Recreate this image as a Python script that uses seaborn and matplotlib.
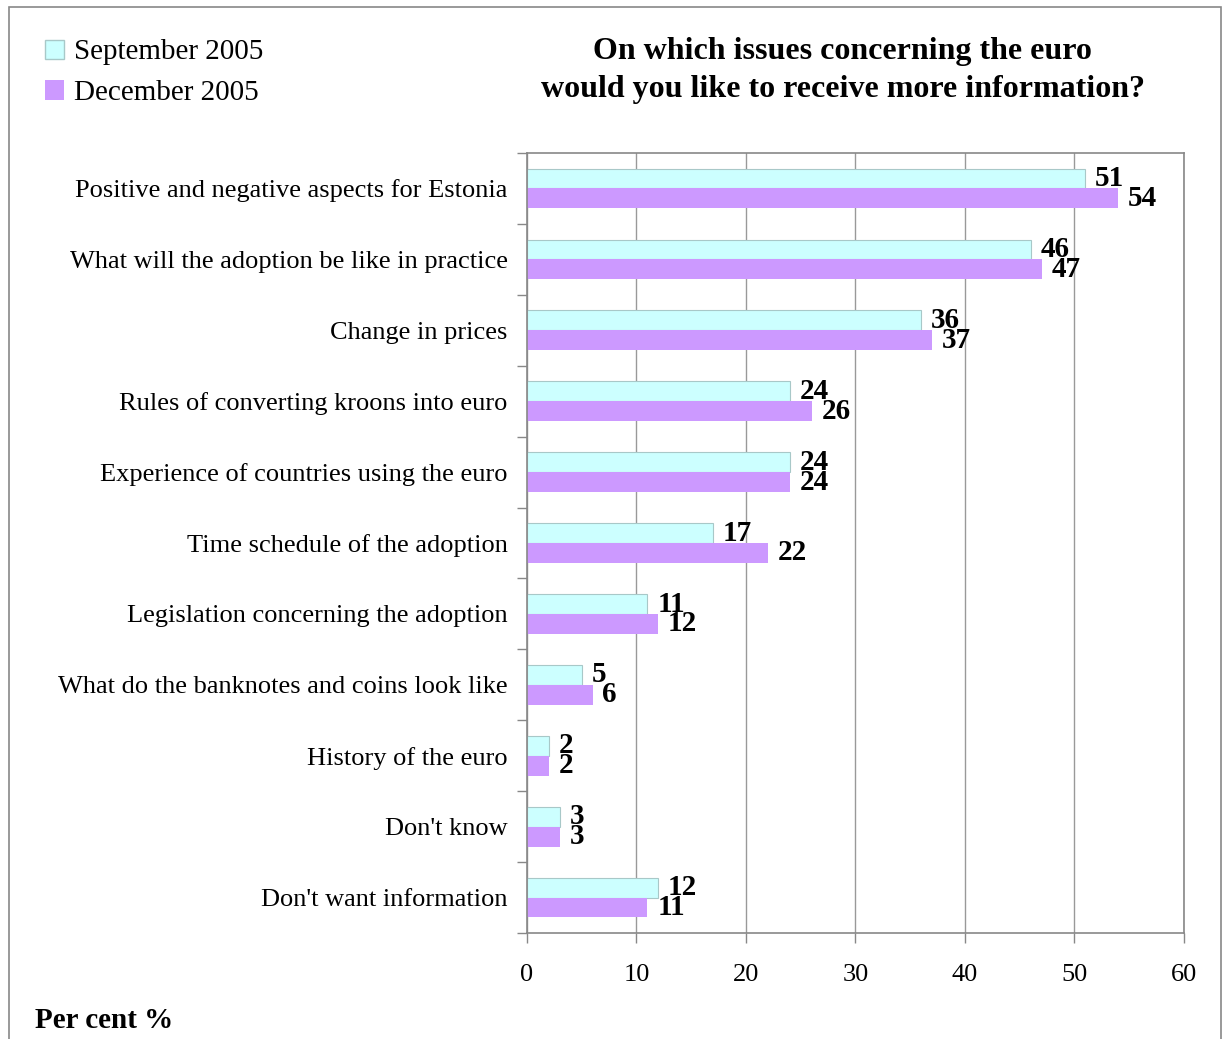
import numpy as np
import matplotlib
matplotlib.use('Agg')
import matplotlib.pyplot as plt
import matplotlib.patches as mpatches
import pandas as pd
import seaborn as sns

# data
issues = ["Positive and negative aspects for Estonia",
          "What will the adoption be like in practice",
          "Change in prices",
          "Rules of converting kroons into euro",
          "Experience of countries using the euro",
          "Time schedule of the adoption",
          "Legislation concerning the adoption",
          "What do the banknotes and coins look like",
          "History of the euro",
          "Don't know",
          "Don't want information"]
sep_2005 = [51, 46, 36, 24, 24, 17, 11, 5, 2, 3, 12]
dec_2005 = [54, 47, 37, 26, 24, 22, 12, 6, 2, 3, 11]
periods = ["September 2005", "December 2005"]
colors = ["#CCFFFF", "#CC99FF"]
x_ticks = [0, 10, 20, 30, 40, 50, 60]

df = pd.DataFrame({
    "issue": issues * 2,
    "value": sep_2005 + dec_2005,
    "period": [periods[0]] * len(issues) + [periods[1]] * len(issues),
})

sns.set_style("white")
plt.rcParams['font.family'] = ['Liberation Serif', 'DejaVu Serif']
plt.rcParams['text.color'] = 'black'
plt.rcParams['xtick.color'] = 'black'
plt.rcParams['ytick.color'] = 'black'

fig = plt.figure(figsize=(12.23, 10.39), dpi=100)
ax = fig.add_axes([0.4309, 0.1020, 0.5372, 0.7507])

sns.barplot(data=df, y="issue", x="value", hue="period", order=issues,
            hue_order=periods, palette=colors, width=0.56, orient="h",
            ax=ax, legend=False, saturation=1)

# bar edges
for p in ax.containers[0]:
    p.set_edgecolor("#a8c8c8")
    p.set_linewidth(0.8)
for p in ax.containers[1]:
    p.set_edgecolor("none")

for cont in ax.containers:
    ax.bar_label(cont, fmt="%d", padding=7, fontsize=21, fontweight="bold",
                 color="black")

ax.set_xlim(0, 60)
ax.set_ylim(len(issues) - 0.5, -0.5)
ax.set_xticks(x_ticks)
ax.set_xlabel("")
ax.set_ylabel("")
ax.grid(axis="x", color="#999999", linewidth=1)
ax.grid(axis="y", visible=False)
ax.set_axisbelow(True)
for s in ax.spines.values():
    s.set_color("#888888")
    s.set_linewidth(1.2)

ax.tick_params(axis="x", length=7, width=1, color="#888888", pad=15,
               labelsize=19, direction="out", bottom=True)
ax.tick_params(axis="y", which="major", length=0, pad=14, labelsize=19)
ax.set_yticks(np.arange(-0.5, len(issues), 1), minor=True)
ax.tick_params(axis="y", which="minor", length=7, width=1, color="#888888",
               direction="out", left=True)

# title
fig.text(0.689, 0.9325, "On which issues concerning the euro\nwould you like to receive more information?",
         ha="center", va="center", fontsize=23, fontweight="bold", linespacing=1.42)

# legend
handles = [mpatches.Patch(facecolor=colors[0], edgecolor="#a8c8c8", label=periods[0]),
           mpatches.Patch(facecolor=colors[1], edgecolor="none", label=periods[1])]
fig.legend(handles=handles, loc="upper left", bbox_to_anchor=(0.037, 0.962),
           frameon=False, fontsize=21, handlelength=0.65, handleheight=0.65,
           handletextpad=0.35, labelspacing=0.5, borderaxespad=0, borderpad=0)

fig.text(0.029, 0.018, "Per cent %", ha="left", va="center", fontsize=21,
         fontweight="bold")

# outer frame
fig.patches.append(mpatches.Rectangle((0.007, -0.01), 0.991, 1.003, transform=fig.transFigure,
                                      fill=False, edgecolor="#888888", linewidth=1.2))

fig.savefig("out.png", dpi=100)
